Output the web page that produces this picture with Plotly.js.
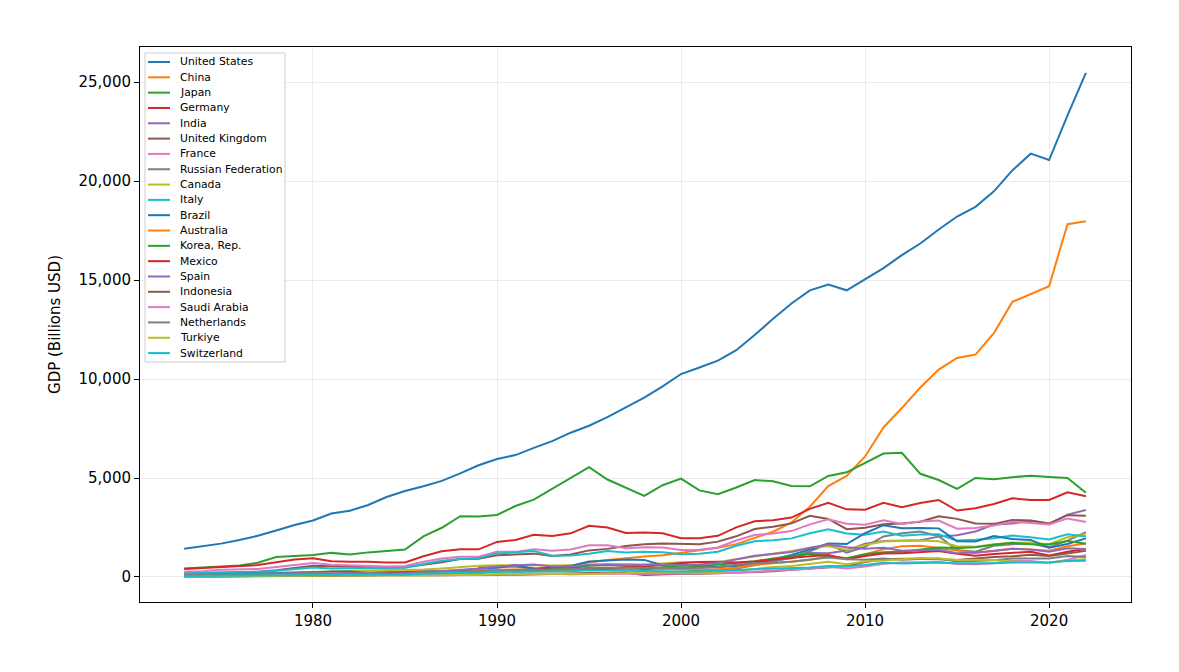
<!DOCTYPE html>
<html>
<head>
<meta charset="utf-8">
<script src="https://cdn.plot.ly/plotly-3.0.1.min.js"></script>
<style>html,body{margin:0;padding:0;background:#fff;}#chart{width:1179px;height:672px;}</style>
</head>
<body>
<div id="chart"></div>
<script>
const years = [];
for (let y = 1973; y <= 2022; y++) years.push(y);

const countries = ["United States","China","Japan","Germany","India","United Kingdom","France","Russian Federation","Canada","Italy","Brazil","Australia","Korea, Rep.","Mexico","Spain","Indonesia","Saudi Arabia","Netherlands","Turkiye","Switzerland"];

const unitedStates = [1425,1545,1685,1873,2082,2352,2627,2857,3207,3344,3634,4037,4339,4580,4855,5236,5642,5963,6158,6520,6859,7287,7640,8073,8578,9063,9631,10251,10582,10929,11457,12217,13039,13816,14474,14770,14479,15049,15600,16254,16843,17551,18206,18695,19477,20533,21381,21060,23315,25463];
const china = [139,144,163,154,175,150,178,191,196,205,231,260,310,301,273,312,348,361,383,427,445,564,735,864,962,1029,1094,1211,1339,1471,1660,1955,2286,2752,3550,4594,5102,6087,7552,8532,9570,10476,11062,11233,12310,13895,14280,14688,17820,17963];
const japan = [432,479,522,586,721,1013,1055,1105,1218,1135,1243,1319,1385,2051,2486,3071,3055,3133,3584,3909,4454,4999,5546,4924,4493,4098,4636,4968,4374,4183,4519,4893,4831,4601,4579,5106,5289,5759,6233,6272,5212,4897,4445,5004,4931,5041,5118,5055,5006,4256];
const germany = [398,445,490,519,600,740,882,950,800,776,770,726,732,1046,1298,1401,1398,1772,1869,2131,2071,2206,2586,2504,2219,2251,2212,1953,1951,2079,2506,2819,2861,3002,3440,3753,3418,3400,3750,3528,3733,3890,3357,3469,3690,3975,3889,3887,4278,4082];
const india = [86,100,99,103,122,137,153,186,194,201,218,212,233,249,279,297,296,321,270,288,279,327,360,393,416,421,459,468,485,515,608,709,820,940,1217,1199,1342,1676,1823,1828,1857,2039,2104,2295,2652,2703,2836,2672,3150,3385];
const unitedKingdom = [193,206,242,233,263,336,439,565,541,515,490,462,489,602,745,910,927,1093,1143,1180,1061,1141,1344,1420,1561,1654,1688,1666,1650,1786,2054,2422,2543,2708,3091,2929,2413,2486,2664,2707,2786,3065,2935,2700,2683,2878,2857,2705,3123,3089];
const france = [264,286,361,372,410,507,614,701,616,585,560,531,553,772,934,1019,1026,1269,1269,1402,1323,1394,1601,1606,1453,1503,1493,1362,1377,1494,1841,2116,2196,2319,2657,2918,2690,2643,2863,2681,2809,2849,2439,2472,2595,2791,2729,2648,2959,2779];
const russia = [null,null,null,null,null,null,null,null,null,null,null,null,null,null,null,null,507,517,518,460,435,395,396,392,405,271,196,260,307,346,430,591,764,990,1300,1661,1223,1525,2046,2208,2293,2059,1364,1277,1574,1657,1693,1493,1837,2266];
const canada = [131,160,174,207,212,219,243,274,306,314,341,355,365,377,431,507,565,594,610,592,577,578,604,629,655,634,678,745,739,760,896,1027,1174,1319,1469,1553,1375,1617,1793,1828,1847,1806,1557,1528,1649,1725,1744,1656,2008,2162];
const italy = [176,200,228,228,258,315,392,480,434,437,450,451,467,656,822,906,954,1183,1245,1317,1070,1091,1178,1315,1243,1273,1255,1147,1172,1273,1578,1806,1858,1950,2213,2409,2200,2136,2295,2087,2142,2162,1837,1877,1962,2092,2011,1898,2155,2050];
const brazil = [83,110,130,153,176,201,225,235,264,282,203,209,223,268,294,330,426,462,603,401,438,558,786,850,883,864,599,655,559,510,558,669,892,1108,1397,1696,1667,2209,2616,2465,2473,2456,1802,1796,2064,1917,1873,1476,1671,1952];
const australia = [64,89,97,105,110,118,135,150,177,193,177,193,180,182,189,236,299,311,326,325,312,323,368,401,436,400,389,416,378,396,468,614,695,748,855,1055,929,1149,1399,1547,1577,1468,1351,1207,1326,1429,1392,1327,1553,1693];
const korea = [14,20,22,30,38,52,66,65,73,79,88,98,101,117,148,200,247,283,331,356,393,464,567,610,570,383,498,576,548,627,703,793,935,1053,1173,1047,944,1144,1253,1278,1371,1484,1466,1500,1624,1725,1651,1644,1818,1674];
const mexico = [55,72,88,89,82,102,135,205,264,185,156,185,195,135,148,182,221,261,313,363,501,527,360,411,500,527,600,708,757,772,729,782,878,975,1053,1110,900,1058,1181,1201,1274,1315,1172,1079,1159,1222,1269,1091,1273,1414];
const spain = [72,88,104,108,117,139,185,233,204,199,171,174,180,251,317,375,413,535,576,629,525,529,613,640,590,619,635,598,628,709,908,1070,1157,1265,1479,1636,1499,1428,1481,1325,1355,1372,1195,1234,1313,1422,1394,1277,1447,1418];
const indonesia = [16,26,31,37,46,52,52,73,86,90,81,85,85,80,76,84,95,106,117,128,158,177,202,227,216,95,140,165,160,196,235,257,286,365,432,510,540,755,893,918,913,891,861,932,1016,1042,1119,1059,1187,1319];
const saudiArabia = [15,45,47,64,74,80,112,165,184,153,129,120,104,87,86,88,95,118,132,137,133,135,143,159,166,147,162,190,184,190,216,259,329,377,416,520,429,528,671,736,747,756,654,645,689,817,804,703,874,1109];
const netherlands = [86,100,115,125,143,172,198,205,174,168,161,151,153,214,261,278,276,330,341,375,369,394,469,471,440,461,470,436,451,494,614,691,720,770,887,985,900,866,930,871,915,929,780,800,847,940,927,932,1058,1010];
const turkiye = [26,36,45,51,59,65,89,69,71,65,62,60,67,76,87,91,107,151,150,159,180,131,170,182,190,276,256,274,202,240,315,409,506,557,681,771,649,777,839,881,958,939,864,870,859,779,760,720,819,906];
const switzerland = [51,58,65,69,73,102,114,119,112,115,117,111,113,159,196,210,203,259,263,270,268,296,344,331,288,295,289,277,283,307,355,396,412,431,479,554,542,603,721,686,708,726,694,688,696,726,721,742,813,818];

const seriesValues = [unitedStates,china,japan,germany,india,unitedKingdom,france,russia,canada,italy,brazil,australia,korea,mexico,spain,indonesia,saudiArabia,netherlands,turkiye,switzerland];
const palette = ["#1f77b4","#ff7f0e","#2ca02c","#d62728","#9467bd","#8c564b","#e377c2","#7f7f7f","#bcbd22","#17becf"];
const yTicks = [0,5000,10000,15000,20000,25000];
const xTicks = [1980,1990,2000,2010,2020];

const traces = countries.map((name, i) => ({
  x: years,
  y: seriesValues[i],
  name: name,
  type: "scatter",
  mode: "lines",
  line: {color: palette[i % 10], width: 2},
  connectgaps: false,
  showlegend: false
}));

// Compact legend drawn in paper space (plot area 140..1131 x 47..602 px)
const W = 1179, H = 672, mL = 140, mR = 48, mT = 47, mB = 70;
const pw = W - mL - mR, ph = H - mT - mB;
const px = v => (v - mL) / pw;
const py = v => (H - mB - v) / ph;
const shapes = [{
  type: "rect", xref: "paper", yref: "paper", layer: "above",
  x0: px(145), x1: px(285), y0: py(53), y1: py(362),
  fillcolor: "rgba(255,255,255,0.85)", line: {color: "#cccccc", width: 1}
}];
const annotations = [];
countries.forEach((name, i) => {
  const yc = 62 + i * 15.32;
  shapes.push({
    type: "line", xref: "paper", yref: "paper", layer: "above",
    x0: px(148), x1: px(170), y0: py(yc), y1: py(yc),
    line: {color: palette[i % 10], width: 2}
  });
  annotations.push({
    xref: "paper", yref: "paper", x: px(177.5), y: py(yc),
    xanchor: "left", yanchor: "middle", showarrow: false,
    text: name, font: {size: 10.8, color: "#000", family: "DejaVu Sans, sans-serif"}
  });
});

const layout = {
  width: W,
  height: H,
  margin: {l: mL, r: mR, t: mT, b: mB, pad: 0},
  paper_bgcolor: "#ffffff",
  plot_bgcolor: "#ffffff",
  font: {family: "DejaVu Sans, sans-serif", color: "#000000", size: 15},
  showlegend: false,
  shapes: shapes,
  annotations: annotations,
  xaxis: {
    range: [1970.6, 2024.45],
    tickvals: xTicks,
    ticktext: xTicks.map(String),
    ticks: "outside", ticklen: 5, tickwidth: 1, tickcolor: "#000",
    showgrid: true, gridcolor: "#ebebeb", gridwidth: 1,
    zeroline: false,
    showline: true, linecolor: "#000", linewidth: 1, mirror: true,
    tickfont: {size: 15}
  },
  yaxis: {
    range: [-1263, 26768],
    tickvals: yTicks,
    tickformat: ",",
    ticks: "outside", ticklen: 5, tickwidth: 1, tickcolor: "#000",
    showgrid: true, gridcolor: "#ebebeb", gridwidth: 1,
    zeroline: false,
    showline: true, linecolor: "#000", linewidth: 1, mirror: true,
    tickfont: {size: 15},
    title: {text: "GDP (Billions USD)", font: {size: 15}, standoff: 14}
  }
};

Plotly.newPlot("chart", traces, layout, {staticPlot: true, displayModeBar: false});
</script>
</body>
</html>
